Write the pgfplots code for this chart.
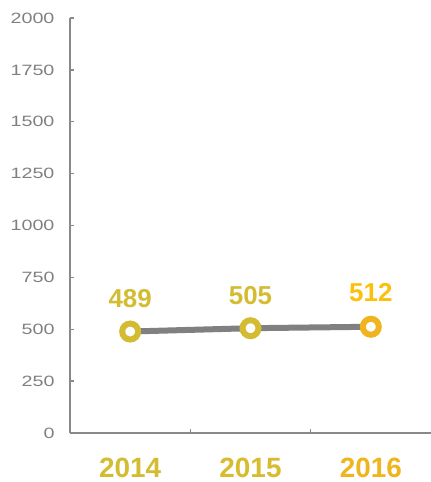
\documentclass[border=0pt]{standalone}
\usepackage{pgfplots}
\pgfplotsset{compat=1.18}
\usepackage{fontspec}
\setmainfont{Liberation Sans}
\newfontfamily\tickfont[FakeStretch=1.32]{Liberation Sans}
\definecolor{olive}{RGB}{212,188,50}
\definecolor{gold}{RGB}{240,180,30}
\definecolor{lblgold}{RGB}{252,192,10}
\definecolor{axgray}{RGB}{137,137,137}
\definecolor{txtgray}{RGB}{128,128,128}
\definecolor{linegray}{RGB}{128,128,128}
\begin{document}
\begin{tikzpicture}
\begin{axis}[
  scale only axis,
  width=361bp, height=415bp,
  xmin=-0.5, xmax=2.5,
  ymin=0, ymax=2000,
  ytick={0,250,...,2000},
  axis x line=bottom, axis y line=left,
  axis line style={axgray, line width=1.3bp, -},
  x axis line style={-}, y axis line style={-},
  tick style={axgray, line width=1.3bp},
  major tick length=4bp,
  tick align=inside,
  xtick={0.5,1.5},
  xticklabels={},
  yticklabel style={font=\tickfont\fontsize{15}{15}\selectfont, text=txtgray, xshift=-12bp},
  /pgf/number format/assume math mode=true,
  /pgf/number format/1000 sep={},
  clip=false,
]
\addplot[linegray, line width=6bp, no marks] coordinates {(0,489) (1,505) (2,512)};
\addplot[only marks, mark=*, mark size=8bp, mark options={draw=olive, fill=white, line width=6bp},
  nodes near coords, point meta=explicit symbolic,
  every node near coord/.append style={font=\bfseries\fontsize{26}{26}\selectfont, text=olive, anchor=center, yshift=33bp}]
  coordinates {(0,489) [489] (1,505) [505]};
\addplot[only marks, mark=*, mark size=8bp, mark options={draw=gold, fill=white, line width=6bp},
  nodes near coords, point meta=explicit symbolic,
  every node near coord/.append style={font=\bfseries\fontsize{26}{26}\selectfont, text=lblgold, anchor=center, yshift=34bp}]
  coordinates {(2,512) [512]};
\node[font=\bfseries\fontsize{28}{28}\selectfont, text=olive] at (axis cs:0,0) [yshift=-35bp] {2014};
\node[font=\bfseries\fontsize{28}{28}\selectfont, text=olive!85!gold] at (axis cs:1,0) [yshift=-35bp] {2015};
\node[font=\bfseries\fontsize{28}{28}\selectfont, text=gold] at (axis cs:2,0) [yshift=-35bp] {2016};
\end{axis}
\pgfresetboundingbox
\path (current axis.south west) ++(-70bp,-49bp) rectangle ++(431bp,482bp);
\end{tikzpicture}
\end{document}
